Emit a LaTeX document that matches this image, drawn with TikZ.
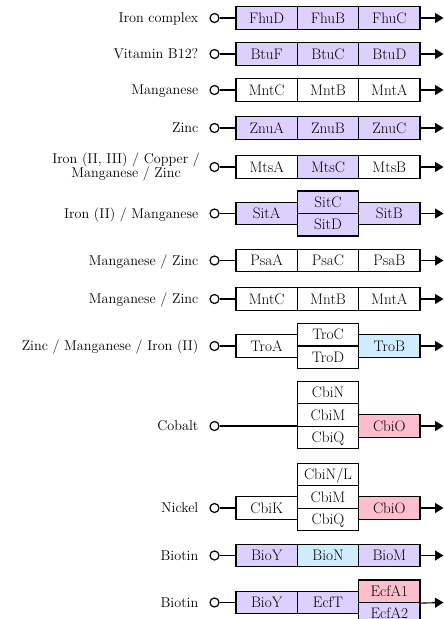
\documentclass[tikz,border=0pt]{standalone}
\usetikzlibrary{arrows.meta}
\definecolor{pur}{RGB}{220,208,255}
\definecolor{blu}{RGB}{208,236,255}
\definecolor{pnk}{RGB}{255,190,204}
\newcommand\mrow[9]{%
  \node[lbl] (l#1) at (198.5,#2) {#3};
  \node[port] (p#1) at (214.5,#2) {};
  \node[pb,fill=#4] (a#1) at (266.67,#2) {#5};
  \node[pb,fill=#6] (b#1) at (328,#2) {#7};
  \node[pb,fill=#8] (c#1) at (389.33,#2) {#9};
  \coordinate (e#1) at (443.5,#2);
  \draw[ln] (p#1) -- (a#1);
  \draw[arr] (c#1) -- (e#1);}
\begin{document}
\begin{tikzpicture}[x=1pt,y=-1pt,
  f/.style={font=\fontsize{14.2}{14.4}\selectfont},
  fb/.style={font=\fontsize{15.2}{15}\selectfont},
  pb/.style={draw, line width=1.2pt, fill=white, minimum width=61.33pt, minimum height=22.5pt, inner sep=0pt, text height=10.2pt, text depth=0pt, fb},
  lbl/.style={anchor=east, inner sep=0pt, text height=9.8pt, text depth=0pt, f},
  port/.style={circle, draw, line width=1.2pt, minimum size=9pt, inner sep=0pt},
  ln/.style={line width=1.1pt},
  arr/.style={ln, -{Triangle[length=8.5pt,width=10pt]}}]
\clip (0,0) rectangle (444,619);
\useasboundingbox (0,0) rectangle (444,619);

\mrow{1}{18}{Iron complex}{pur}{FhuD}{pur}{FhuB}{pur}{FhuC}
\mrow{2}{54}{Vitamin B12?}{pur}{BtuF}{pur}{BtuC}{pur}{BtuD}
\mrow{3}{90}{Manganese}{white}{MntC}{white}{MntB}{white}{MntA}
\mrow{4}{128}{Zinc}{pur}{ZnuA}{pur}{ZnuB}{pur}{ZnuC}

% row 5
\node[anchor=east, inner sep=0pt, align=center, f] (l5) at (200,167) {Iron (II, III) / Copper /\\Manganese / Zinc};
\node[port] (p5) at (214.5,167) {};
\node[pb] (a5) at (266.67,167) {MtsA};
\node[pb,fill=pur] (b5) at (328,167) {MtsC};
\node[pb] (c5) at (389.33,167) {MtsB};
\coordinate (e5) at (443.5,167);
\draw[ln] (p5) -- (a5);
\draw[arr] (c5) -- (e5);

% row 6
\node[lbl] (l6) at (198.5,213.5) {Iron (II) / Manganese};
\node[port] (p6) at (214.5,213.5) {};
\node[pb,fill=pur] (a6) at (266.67,213.5) {SitA};
\node[pb,fill=pur] (c6) at (389.33,213.5) {SitB};
\node[pb,fill=pur] (b6u) at (328,202.25) {SitC};
\node[pb,fill=pur] (b6d) at (328,224.75) {SitD};
\coordinate (e6) at (443.5,213.5);
\draw[ln] (p6) -- (a6);
\draw[arr] (c6) -- (e6);

\mrow{7}{260.5}{Manganese / Zinc}{white}{PsaA}{white}{PsaC}{white}{PsaB}
\mrow{8}{299}{Manganese / Zinc}{white}{MntC}{white}{MntB}{white}{MntA}

% row 9
\node[lbl] (l9) at (198.5,346) {Zinc / Manganese / Iron (II)};
\node[port] (p9) at (214.5,346) {};
\node[pb] (a9) at (266.67,346) {TroA};
\node[pb,fill=blu] (c9) at (389.33,346) {TroB};
\node[pb] (b9u) at (328,334.75) {TroC};
\node[pb] (b9d) at (328,357.25) {TroD};
\coordinate (e9) at (443.5,346);
\draw[ln] (p9) -- (a9);
\draw[arr] (c9) -- (e9);

% row 10 cobalt
\node[lbl] (l10) at (198.5,426) {Cobalt};
\node[port] (p10) at (214.5,426) {};
\node[pb] (b10n) at (328,392.5) {CbiN};
\node[pb] (b10m) at (328,415) {CbiM};
\node[pb] (b10q) at (328,437.5) {CbiQ};
\node[pb,fill=pnk] (c10) at (389.33,426) {CbiO};
\coordinate (e10) at (443.5,426);
\draw[ln] (p10) -- (b10m.west |- p10);
\draw[arr] (c10) -- (e10);

% row 11 nickel
\node[lbl] (l11) at (198.5,508) {Nickel};
\node[port] (p11) at (214.5,508) {};
\node[pb] (a11) at (266.67,508) {CbiK};
\node[pb] (b11n) at (328,474.5) {CbiN/L};
\node[pb] (b11m) at (328,497) {CbiM};
\node[pb] (b11q) at (328,519.5) {CbiQ};
\node[pb,fill=pnk] (c11) at (389.33,508) {CbiO};
\coordinate (e11) at (443.5,508);
\draw[ln] (p11) -- (a11);
\draw[arr] (c11) -- (e11);

\mrow{12}{555.5}{Biotin}{pur}{BioY}{blu}{BioN}{pur}{BioM}

% row 13
\node[lbl] (l13) at (198.5,602.5) {Biotin};
\node[port] (p13) at (214.5,602.5) {};
\node[pb,fill=pur] (a13) at (266.67,602.5) {BioY};
\node[pb,fill=pur] (b13) at (328,602.5) {EcfT};
\node[pb,fill=pnk] (c13u) at (389.33,591.25) {EcfA1};
\node[pb,fill=pur] (c13d) at (389.33,613.75) {EcfA2};
\coordinate (e13) at (443.5,602.5);
\draw[ln] (p13) -- (a13);
\draw[arr] (c13u.south east) -- (e13);
\end{tikzpicture}
\end{document}
